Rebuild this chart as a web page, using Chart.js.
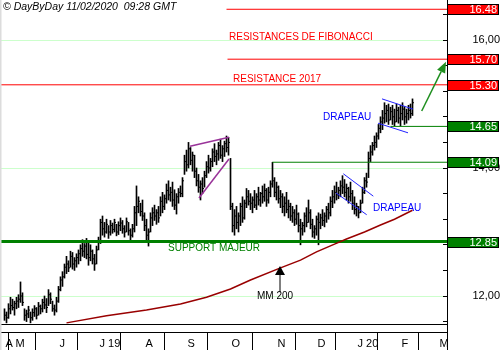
<!DOCTYPE html>
<html>
<head>
<meta charset="utf-8">
<script src="https://cdn.jsdelivr.net/npm/chart.js@4/dist/chart.umd.min.js"></script>
<style>
html, body { margin: 0; padding: 0; background: #fff; }
canvas { display: block; }
</style>
</head>
<body>
<canvas id="chart" width="500" height="350"></canvas>
<script>
// daily bars, late April 2019 -> 11 Feb 2020 (one value per trading day)
const highs = [
  11.80, 11.75, 11.88, 11.98, 11.95, 11.92, 11.98, 12.02, 12.22, 12.05,
  11.80, 11.78, 11.84, 11.75, 11.80, 11.85, 11.82, 11.90, 11.86, 11.95,
  12.00, 11.96, 12.10, 12.05, 11.92, 11.86, 11.98, 12.15, 12.30, 12.38,
  12.50, 12.62, 12.55, 12.70, 12.68, 12.60, 12.66, 12.72, 12.80, 12.88,
  12.82, 12.90, 12.85, 12.80, 12.72, 12.65, 12.78, 12.92, 13.20, 13.25,
  13.15, 13.20, 13.10, 13.18, 13.14, 13.20, 13.12, 13.16, 13.22, 13.18,
  13.10, 13.22, 13.15, 13.05, 13.12, 13.40, 13.72, 13.55, 13.45, 13.50,
  13.30, 13.20, 13.05, 13.30, 13.38, 13.42, 13.35, 13.40, 13.55, 13.62,
  13.58, 13.75, 13.80, 13.70, 13.78, 13.66, 13.60, 13.68, 13.72, 13.85,
  14.20, 14.28, 14.40, 14.32, 14.25, 14.20, 14.00, 13.90, 13.80, 13.85,
  13.95, 14.10, 14.20, 14.15, 14.30, 14.38, 14.28, 14.40, 14.45, 14.35,
  14.42, 14.50, 14.48, 14.15, 13.45, 13.35, 13.40, 13.30, 13.45, 13.55,
  13.50, 13.68, 13.65, 13.60, 13.55, 13.65, 13.60, 13.70, 13.62, 13.72,
  13.75, 13.68, 13.70, 13.80, 14.09, 13.85, 13.78, 13.72, 13.65, 13.60,
  13.55, 13.62, 13.50, 13.45, 13.40, 13.35, 13.42, 13.30, 13.20, 13.15,
  13.30, 13.38, 13.50, 13.35, 13.20, 13.10, 13.25, 13.30, 13.28, 13.35,
  13.30, 13.40, 13.45, 13.55, 13.65, 13.72, 13.78, 13.70, 13.80, 13.88,
  13.82, 13.75, 13.70, 13.78, 13.65, 13.55, 13.45, 13.40, 13.50, 13.70,
  13.85, 13.92, 14.25, 14.35, 14.40, 14.50, 14.55, 14.68, 14.80, 14.90,
  15.02, 14.98, 15.00, 14.95, 14.98, 14.92, 15.00, 14.95, 14.98, 15.02,
  14.96, 14.92, 14.98, 15.00, 15.08
];
const lows = [
  11.62, 11.58, 11.65, 11.72, 11.78, 11.70, 11.80, 11.82, 11.90, 11.85,
  11.62, 11.60, 11.66, 11.58, 11.62, 11.68, 11.64, 11.70, 11.72, 11.75,
  11.80, 11.74, 11.85, 11.88, 11.76, 11.70, 11.75, 11.90, 12.08, 12.15,
  12.28, 12.35, 12.38, 12.45, 12.42, 12.40, 12.45, 12.50, 12.55, 12.62,
  12.60, 12.58, 12.48, 12.55, 12.50, 12.40, 12.50, 12.72, 12.82, 12.95,
  12.92, 12.98, 12.90, 12.95, 12.98, 13.00, 12.94, 12.96, 13.02, 12.98,
  12.92, 13.00, 12.95, 12.88, 12.92, 13.00, 13.10, 13.30, 13.25, 13.18,
  13.02, 12.88, 12.78, 13.00, 13.10, 13.18, 13.12, 13.15, 13.25, 13.30,
  13.35, 13.45, 13.50, 13.48, 13.40, 13.35, 13.28, 13.45, 13.55, 13.55,
  13.90, 13.95, 14.00, 14.05, 13.95, 13.85, 13.72, 13.62, 13.50, 13.60,
  13.70, 13.85, 13.92, 13.95, 14.02, 14.10, 14.05, 14.12, 14.15, 14.10,
  14.18, 14.25, 14.20, 13.35, 13.00, 12.95, 13.05, 13.00, 13.10, 13.15,
  13.20, 13.38, 13.42, 13.35, 13.30, 13.38, 13.35, 13.42, 13.40, 13.45,
  13.48, 13.40, 13.45, 13.55, 13.70, 13.55, 13.50, 13.45, 13.38, 13.30,
  13.25, 13.30, 13.22, 13.18, 13.15, 13.10, 13.12, 13.00, 12.80, 12.95,
  13.00, 13.08, 13.15, 13.05, 12.92, 12.90, 12.95, 12.80, 13.05, 13.10,
  13.08, 13.15, 13.20, 13.25, 13.38, 13.45, 13.50, 13.52, 13.55, 13.60,
  13.55, 13.50, 13.45, 13.48, 13.35, 13.28, 13.25, 13.22, 13.30, 13.45,
  13.60, 13.70, 13.85, 14.10, 14.20, 14.28, 14.32, 14.45, 14.55, 14.60,
  14.70, 14.72, 14.68, 14.75, 14.68, 14.66, 14.72, 14.70, 14.66, 14.75,
  14.68, 14.70, 14.75, 14.78, 14.82
];
const closes = [
  11.70, 11.66, 11.80, 11.85, 11.82, 11.88, 11.92, 11.95, 12.00, 11.90,
  11.70, 11.72, 11.78, 11.66, 11.74, 11.80, 11.70, 11.84, 11.80, 11.90,
  11.86, 11.82, 12.02, 11.95, 11.80, 11.78, 11.92, 12.10, 12.25, 12.30,
  12.45, 12.50, 12.44, 12.62, 12.50, 12.55, 12.60, 12.66, 12.74, 12.70,
  12.78, 12.65, 12.60, 12.70, 12.58, 12.50, 12.72, 12.86, 13.15, 13.05,
  13.00, 13.12, 13.00, 13.10, 13.04, 13.15, 13.00, 13.10, 13.14, 13.05,
  13.00, 13.16, 13.02, 12.95, 13.05, 13.30, 13.40, 13.48, 13.32, 13.25,
  13.10, 12.95, 13.00, 13.22, 13.30, 13.25, 13.30, 13.22, 13.48, 13.40,
  13.52, 13.65, 13.58, 13.62, 13.50, 13.42, 13.55, 13.62, 13.60, 13.80,
  14.10, 14.05, 14.30, 14.12, 14.20, 13.95, 13.80, 13.70, 13.75, 13.68,
  13.88, 14.02, 14.00, 14.10, 14.25, 14.18, 14.22, 14.35, 14.20, 14.30,
  14.38, 14.32, 14.40, 13.40, 13.10, 13.25, 13.15, 13.25, 13.40, 13.22,
  13.45, 13.55, 13.48, 13.45, 13.50, 13.42, 13.55, 13.50, 13.60, 13.55,
  13.65, 13.50, 13.62, 13.75, 13.80, 13.62, 13.70, 13.52, 13.55, 13.40,
  13.45, 13.35, 13.40, 13.25, 13.30, 13.20, 13.28, 13.10, 13.05, 13.10,
  13.25, 13.15, 13.30, 13.12, 13.00, 13.05, 13.20, 13.15, 13.22, 13.18,
  13.25, 13.35, 13.30, 13.48, 13.55, 13.62, 13.58, 13.65, 13.72, 13.70,
  13.62, 13.68, 13.55, 13.60, 13.45, 13.35, 13.40, 13.30, 13.45, 13.62,
  13.80, 13.78, 14.15, 14.25, 14.35, 14.40, 14.50, 14.62, 14.72, 14.78,
  14.85, 14.90, 14.75, 14.88, 14.80, 14.72, 14.90, 14.78, 14.85, 14.92,
  14.80, 14.85, 14.90, 14.85, 15.02
];

// 200 day moving average, read at a few bars
const maBars = [31, 51, 71, 88, 101, 113, 123, 138, 148, 156, 165, 171, 180, 188, 195, 204];
const maValues = [11.58, 11.69, 11.78, 11.875, 11.98, 12.11, 12.25, 12.44, 12.56, 12.69, 12.81, 12.89, 13.0, 13.11, 13.2, 13.34];

// x axis: first bar of each month
const monthStarts = [0, 5, 27, 47, 70, 91, 113, 136, 156, 176, 198, 217];
const monthLabels = ['A', 'M', 'J', 'J 19', 'A', 'S', 'O', 'N', 'D', 'J 20', 'F', 'M'];

// horizontal levels (start bar, null = whole width)
const resistances = [16.48, 15.70, 15.30];
const resistanceStart = [111, 111.5, null];
const supports = [14.65, 14.09, 12.85];
const supportStart = [193, 134, null];

// hand drawn lines, [bar, price]
const wedgeTop = [[92.75, 14.34], [112.25, 14.48]];
const wedgeBottom = [[97.25, 13.53], [112.25, 14.14]];
const flagDecTop = [[169.4, 13.91], [184.4, 13.56]];
const flagDecBottom = [[165.75, 13.61], [181.1, 13.27]];
const flagFebTop = [[188.75, 15.08], [204.25, 14.92]];
const flagFebBottom = [[186.75, 14.70], [201.75, 14.55]];
const targetArrow = [[208.6, 14.89], [220.75, 15.66]];
const maArrow = [[137.75, 12.06], [137.75, 12.47]];

const X_MIN = -2.25, X_MAX = 221.25;
const Y_MIN = 11.4375, Y_MAX = 16.625;
const PANEL_BOTTOM = 11.5625;
const FONT = 'Arial, "Liberation Sans", sans-serif';

const isInt = v => Math.abs(v - Math.round(v)) < 1e-6;

function seg(points, color, width) {
    return {
        type: 'line',
        data: points.map(p => ({ x: p[0], y: p[1] })),
        borderColor: color,
        borderWidth: width,
        pointRadius: 0,
        tension: 0,
        fill: false,
        order: 1
    };
}

function noPadding(s) {
    s.paddingTop = 0;
    s.paddingBottom = 0;
    s.paddingLeft = 0;
    s.paddingRight = 0;
}

const datasets = [];

// bars: high-low range + close tick
datasets.push({
    type: 'bar',
    data: highs.map((h, i) => ({ x: i, y: [lows[i], h] })),
    backgroundColor: '#000',
    borderWidth: 0,
    barThickness: 1,
    order: 2
});
datasets.push({
    type: 'line',
    data: closes.map((c, i) => ({ x: i + 0.5, y: c })),
    showLine: false,
    pointStyle: 'line',
    pointRadius: 0.5,
    pointBorderColor: '#000',
    pointBorderWidth: 1,
    order: 2
});

datasets.push(seg(maBars.map((b, i) => [b, maValues[i]]), '#990000', 1.5));

resistances.forEach((v, i) => {
    datasets.push(seg([[resistanceStart[i] ?? X_MIN, v], [X_MAX, v]], '#ff0000', 1));
});
supports.forEach((v, i) => {
    datasets.push(seg([[supportStart[i] ?? X_MIN, v], [X_MAX, v]], '#008000', v === 12.85 ? 3 : 1));
});

datasets.push(seg(wedgeTop, '#993399', 1.5));
datasets.push(seg(wedgeBottom, '#993399', 1.5));
datasets.push(seg(flagDecTop, '#2222ff', 1));
datasets.push(seg(flagDecBottom, '#2222ff', 1));
datasets.push(seg(flagFebTop, '#2222ff', 1));
datasets.push(seg(flagFebBottom, '#2222ff', 1));

const notes = [
    { text: 'RESISTANCES DE FIBONACCI', x: 112.25, y: 16.04, color: '#ff0000', align: 'left' },
    { text: 'RESISTANCE 2017', x: 114.25, y: 15.39, color: '#ff0000', align: 'left' },
    { text: 'DRAPEAU', x: 159.25, y: 14.80, color: '#0000ff', align: 'left' },
    { text: 'DRAPEAU', x: 184.25, y: 13.375, color: '#0000ff', align: 'left' },
    { text: 'SUPPORT MAJEUR', x: 81.75, y: 12.75, color: '#008000', align: 'left' },
    { text: 'MM 200', x: 135.25, y: 12.0, color: '#000', align: 'center' }
];

function arrow(ctx, x1, y1, x2, y2, color, width, len, w) {
    const a = Math.atan2(y2 - y1, x2 - x1);
    const bx = x2 - Math.cos(a) * len, by = y2 - Math.sin(a) * len;
    ctx.strokeStyle = color;
    ctx.lineWidth = width;
    ctx.beginPath();
    ctx.moveTo(x1, y1);
    ctx.lineTo(bx, by);
    ctx.stroke();
    ctx.fillStyle = color;
    ctx.beginPath();
    ctx.moveTo(x2, y2);
    ctx.lineTo(bx + Math.sin(a) * w / 2, by - Math.cos(a) * w / 2);
    ctx.lineTo(bx - Math.sin(a) * w / 2, by + Math.cos(a) * w / 2);
    ctx.closePath();
    ctx.fill();
}

const overlay = {
    id: 'overlay',
    beforeDatasetsDraw(chart) {
        const ctx = chart.ctx, area = chart.chartArea;
        const y = Math.round(chart.scales.y.getPixelForValue(PANEL_BOTTOM)) + 0.5;
        ctx.save();
        ctx.strokeStyle = '#000';
        ctx.lineWidth = 1;
        ctx.beginPath();
        ctx.moveTo(area.left, y);
        ctx.lineTo(area.right, y);
        ctx.stroke();
        ctx.restore();
    },
    afterDatasetsDraw(chart) {
        const ctx = chart.ctx, xs = chart.scales.x, ys = chart.scales.y;
        ctx.save();
        ctx.font = '10px ' + FONT;
        ctx.textBaseline = 'middle';
        for (const n of notes) {
            ctx.fillStyle = n.color;
            ctx.textAlign = n.align;
            ctx.fillText(n.text, xs.getPixelForValue(n.x), ys.getPixelForValue(n.y));
        }
        const px = p => [xs.getPixelForValue(p[0]), ys.getPixelForValue(p[1])];
        let [a, b] = [px(targetArrow[0]), px(targetArrow[1])];
        arrow(ctx, a[0], a[1], b[0], b[1], '#1f8f1f', 1.5, 11, 9);
        [a, b] = [px(maArrow[0]), px(maArrow[1])];
        arrow(ctx, a[0], a[1], b[0], b[1], '#000', 1, 9, 10);
        ctx.restore();
    },
    afterDraw(chart) {
        const ctx = chart.ctx, area = chart.chartArea, ys = chart.scales.y;
        ctx.save();
        // left frame and axis extension into the date row
        ctx.fillStyle = '#dcdcdc';
        ctx.fillRect(0, 0, 1.5, 350);
        ctx.strokeStyle = '#000';
        ctx.lineWidth = 1;
        ctx.beginPath();
        ctx.moveTo(area.right + 0.5, area.bottom);
        ctx.lineTo(area.right + 0.5, 350);
        ctx.stroke();

        // price tags on the right axis
        const tags = resistances.map(v => [v, '#ff0000']).concat(supports.map(v => [v, '#008000']));
        ctx.font = '11px ' + FONT;
        ctx.textAlign = 'right';
        ctx.textBaseline = 'middle';
        for (const [v, c] of tags) {
            const y = Math.round(ys.getPixelForValue(v));
            ctx.fillStyle = c;
            ctx.fillRect(area.right, y - 5, 52, 11);
            ctx.strokeStyle = '#000';
            ctx.strokeRect(area.right + 0.5, y - 4.5, 51, 10);
            ctx.fillStyle = '#fff';
            ctx.fillText(v.toFixed(2), 497, y + 0.5);
        }

        // header
        ctx.fillStyle = '#000';
        ctx.textAlign = 'left';
        ctx.font = 'italic 10.5px ' + FONT;
        ctx.fillText('\u00A9 DayByDay 11/02/2020  09:28 GMT', 3, 7);
        ctx.restore();
    }
};

new Chart(document.getElementById('chart'), {
    type: 'bar',
    data: { datasets },
    plugins: [overlay],
    options: {
        responsive: false,
        devicePixelRatio: 1,
        animation: false,
        events: [],
        layout: { padding: 0, autoPadding: false },
        plugins: { legend: { display: false }, tooltip: { enabled: false } },
        scales: {
            x: {
                type: 'linear',
                position: 'bottom',
                min: X_MIN,
                max: X_MAX,
                offset: false,
                grid: { drawOnChartArea: false, drawTicks: true, tickLength: 18, color: '#000', tickColor: '#000' },
                border: { display: true, color: '#000', width: 1 },
                afterBuildTicks: s => { s.ticks = monthStarts.map(k => ({ value: k - 0.5 })); },
                afterFit: s => { s.height = 18; noPadding(s); },
                ticks: {
                    autoSkip: false,
                    maxRotation: 0,
                    align: 'start',
                    labelOffset: 2,
                    padding: -13,
                    color: '#000',
                    font: { family: FONT, size: 11 },
                    callback: (v, i) => monthLabels[i]
                }
            },
            y: {
                type: 'linear',
                position: 'right',
                min: Y_MIN,
                max: Y_MAX,
                grid: {
                    drawOnChartArea: true,
                    drawTicks: true,
                    tickLength: -4,
                    color: c => (c.tick && isInt(c.tick.value)) ? '#ccffcc' : 'rgba(0,0,0,0)',
                    tickColor: '#000'
                },
                border: { display: true, color: '#000', width: 1 },
                afterBuildTicks: s => {
                    const t = [];
                    for (let i = 58; i <= 83; i++) t.push({ value: i / 5 });
                    s.ticks = t;
                },
                afterFit: s => { s.width = 53; noPadding(s); },
                ticks: {
                    crossAlign: 'far',
                    padding: 27,
                    color: '#000',
                    font: { family: FONT, size: 11 },
                    callback: v => isInt(v) ? v.toFixed(2).replace('.', ',') : ''
                }
            }
        }
    }
});
</script>
</body>
</html>
